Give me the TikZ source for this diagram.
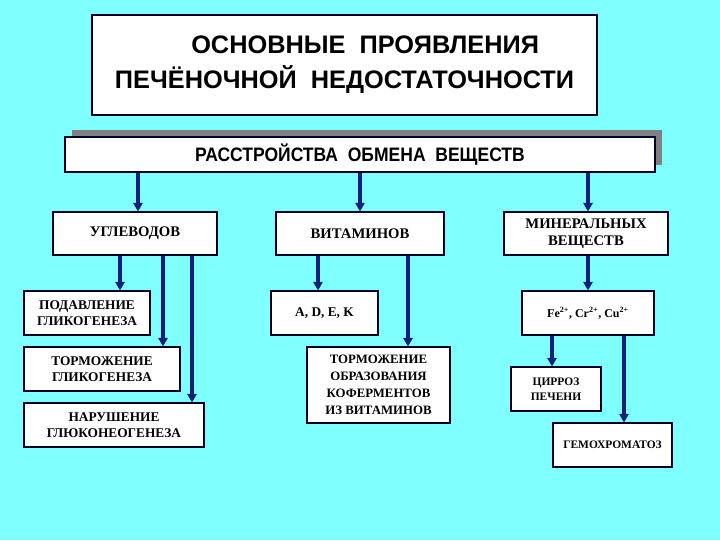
\documentclass[tikz,border=0pt]{standalone}
\usepackage{fontspec}
\setmainfont{Liberation Serif}
\newfontfamily\headfont{Liberation Sans}
\newfontfamily\headnarrow[FakeStretch=0.9]{Liberation Sans}
\usetikzlibrary{arrows.meta}
\definecolor{bgcyan}{HTML}{80FFFF}
\definecolor{navy}{HTML}{14207A}
\definecolor{shadowgray}{HTML}{808080}
\tikzset{
  px/.style={x=0.75pt,y=-0.75pt},
  box/.style={draw=black!85!blue,line width=0.8pt,fill=white,align=center,
    inner sep=2pt,font=\bfseries\fontsize{10}{11.5}\selectfont},
  smallbox/.style={box,font=\bfseries\fontsize{8.6}{11}\selectfont},
  headbox/.style={draw=black!85!blue,line width=0.8pt,fill=white,align=center,inner sep=0pt},
  arr/.style={draw=navy,line width=2.3pt,-{Triangle[length=6.5pt,width=7pt]}}
}
\begin{document}
\begin{tikzpicture}[px]
\fill[bgcyan] (0,0) rectangle (720,540);
\useasboundingbox (0,0) rectangle (720,540);

% title
\node[headbox,minimum width=378.75pt,minimum height=75pt,
  font=\headfont\bfseries\fontsize{19}{26}\selectfont] (title) at (344.5,65)
  {\hspace*{31pt}ОСНОВНЫЕ~~ПРОЯВЛЕНИЯ\\ПЕЧЁНОЧНОЙ~~НЕДОСТАТОЧНОСТИ};

% main box with shadow
\fill[shadowgray] (72,130) rectangle (662,165);
\node[headbox,minimum width=442.5pt,minimum height=26.25pt,
  font=\headnarrow\bfseries\fontsize{14.6}{17}\selectfont] (main) at (360,154.5)
  {РАССТРОЙСТВА~~ОБМЕНА~~ВЕЩЕСТВ};

% second level
\node[box,minimum width=123pt,minimum height=32.25pt,font=\bfseries\fontsize{11}{12.5}\selectfont] (ugl) at (135,233.5) {УГЛЕВОДОВ};
\node[box,minimum width=126pt,minimum height=32.25pt,font=\bfseries\fontsize{11}{12.5}\selectfont] (vit) at (360,233.5) {ВИТАМИНОВ};
\node[box,minimum width=123pt,minimum height=32.25pt,font=\bfseries\fontsize{11}{12.5}\selectfont] (min) at (586,233.5) {МИНЕРАЛЬНЫХ\\ВЕЩЕСТВ};

% third level, left
\node[box,minimum width=94.5pt,minimum height=33pt] (p1) at (87,313) {ПОДАВЛЕНИЕ\\ГЛИКОГЕНЕЗА};
\node[box,minimum width=117pt,minimum height=33pt] (p2) at (102,369) {ТОРМОЖЕНИЕ\\ГЛИКОГЕНЕЗА};
\node[box,minimum width=135pt,minimum height=33pt] (p3) at (114,425) {НАРУШЕНИЕ\\ГЛЮКОНЕОГЕНЕЗА};

% middle
\node[box,minimum width=80.25pt,minimum height=33pt] (adek) at (324.5,313) {A, D, E, K};
\node[box,minimum width=107.25pt,minimum height=57pt,font=\bfseries\fontsize{9.6}{12.6}\selectfont] (korf) at (378.5,385) {ТОРМОЖЕНИЕ\\ОБРАЗОВАНИЯ\\КОФЕРМЕНТОВ\\ИЗ ВИТАМИНОВ};

% right
\node[box,minimum width=99pt,minimum height=33pt,font=\bfseries\fontsize{9}{11}\selectfont] (fe) at (588,313) {Fe\textsuperscript{2+}, Cr\textsuperscript{2+}, Cu\textsuperscript{2+}};
\node[smallbox,minimum width=67.5pt,minimum height=33pt] (cirr) at (556,389) {ЦИРРОЗ\\ПЕЧЕНИ};
\node[smallbox,minimum width=89.25pt,minimum height=33pt] (gem) at (612.5,445) {ГЕМОХРОМАТОЗ};

% arrows
\draw[arr] (main.south -| 138,0) -- (ugl.north -| 138,0);
\draw[arr] (main.south -| 360,0) -- (vit.north -| 360,0);
\draw[arr] (main.south -| 588,0) -- (min.north -| 588,0);

\draw[arr] (ugl.south -| 120,0) -- (p1.north -| 120,0);
\draw[arr] (ugl.south -| 163,0) -- (p2.north -| 163,0);
\draw[arr] (ugl.south -| 192,0) -- (p3.north -| 192,0);

\draw[arr] (vit.south -| 318,0) -- (adek.north -| 318,0);
\draw[arr] (vit.south -| 408,0) -- (korf.north -| 408,0);

\draw[arr] (min.south -| 588,0) -- (fe.north -| 588,0);
\draw[arr] (fe.south -| 552,0) -- (cirr.north -| 552,0);
\draw[arr] (fe.south -| 624,0) -- (gem.north -| 624,0);
\end{tikzpicture}
\end{document}
